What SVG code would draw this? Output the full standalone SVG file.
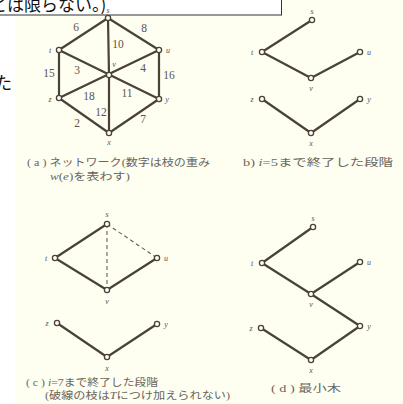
<svg xmlns="http://www.w3.org/2000/svg" width="403" height="404" viewBox="0 0 403 404">
<style>
.e{stroke:#4a4137;stroke-width:2.2;fill:none;stroke-linecap:round}
.d{stroke:#6a6157;stroke-width:1.1;fill:none;stroke-dasharray:4 3}
.n{fill:#fffff8;stroke:#4a4137;stroke-width:1.3}
.l{font-family:"Liberation Serif",serif;font-style:italic;font-size:8px;fill:#5a554d;text-anchor:middle;dominant-baseline:central}
.w{font-family:"Liberation Serif",serif;font-size:11.5px;fill:#5a554d;text-anchor:middle;dominant-baseline:central}
.c{font-family:"Liberation Serif","Noto Sans CJK JP",serif;font-size:10.5px;fill:#6a655d;dominant-baseline:central}
.t{font-family:"Noto Sans CJK JP","Noto Sans",sans-serif;font-size:17px;fill:#111}
</style>
<rect x="0" y="0" width="403" height="404" fill="#ffffff"/>
<rect x="15" y="0" width="388" height="404" fill="#fefef1"/>
<g id="header">
<rect x="-1" y="-1" width="282.5" height="16" fill="#ffffff" stroke="#333" stroke-width="1"/>
<text class="t" x="-10" y="11">とは限らない。)</text>
<text class="t" x="-5" y="89">た</text>
</g>
<g id="connectors">
<!-- (a) -->
<line class="e" x1="108" y1="18" x2="59" y2="50"/>
<line class="e" x1="108" y1="18" x2="159" y2="50"/>
<line class="e" x1="108" y1="18" x2="109" y2="75"/>
<line class="e" x1="59" y1="50" x2="159" y2="99"/>
<line class="e" x1="59" y1="50" x2="59" y2="98"/>
<line class="e" x1="159" y1="50" x2="59" y2="98"/>
<line class="e" x1="159" y1="50" x2="159" y2="99"/>
<line class="e" x1="109" y1="75" x2="109" y2="133"/>
<line class="e" x1="59" y1="98" x2="109" y2="133"/>
<line class="e" x1="159" y1="99" x2="109" y2="133"/>
<!-- (b) -->
<line class="e" x1="312" y1="20" x2="262" y2="52"/>
<line class="e" x1="262" y1="52" x2="311" y2="78"/>
<line class="e" x1="311" y1="78" x2="360" y2="52"/>
<line class="e" x1="262" y1="99" x2="311" y2="133"/>
<line class="e" x1="311" y1="133" x2="360" y2="99"/>
<!-- (c) -->
<line class="e" x1="107" y1="224" x2="55" y2="258"/>
<line class="e" x1="55" y1="258" x2="107" y2="290"/>
<line class="e" x1="107" y1="290" x2="157" y2="258"/>
<line class="d" x1="107" y1="224" x2="107" y2="290"/>
<line class="d" x1="107" y1="224" x2="157" y2="258"/>
<line class="e" x1="57" y1="323" x2="107" y2="357"/>
<line class="e" x1="107" y1="357" x2="157" y2="324"/>
<!-- (d) -->
<line class="e" x1="313" y1="227" x2="262" y2="263"/>
<line class="e" x1="262" y1="263" x2="311" y2="294"/>
<line class="e" x1="311" y1="294" x2="360" y2="262"/>
<line class="e" x1="311" y1="294" x2="360" y2="326"/>
<line class="e" x1="261" y1="328" x2="311" y2="360"/>
<line class="e" x1="311" y1="360" x2="360" y2="326"/>
</g>
<g id="weights">
<text class="w" x="76" y="27">6</text>
<text class="w" x="144" y="28">8</text>
<text class="w" x="118" y="44">10</text>
<text class="w" x="77" y="70">3</text>
<text class="w" x="143" y="68">4</text>
<text class="w" x="49" y="73">15</text>
<text class="w" x="169" y="75">16</text>
<text class="w" x="89" y="96">18</text>
<text class="w" x="127" y="93">11</text>
<text class="w" x="101" y="112">12</text>
<text class="w" x="77" y="123">2</text>
<text class="w" x="143" y="119">7</text>
</g>
<g id="a-s"><circle class="n" cx="108" cy="18" r="2.6"/><text class="l" x="108" y="10">s</text></g>
<g id="a-t"><circle class="n" cx="59" cy="50" r="2.6"/><text class="l" x="50" y="50">t</text></g>
<g id="a-u"><circle class="n" cx="159" cy="50" r="2.6"/><text class="l" x="168" y="50">u</text></g>
<g id="a-v"><circle class="n" cx="109" cy="75" r="2.6"/><text class="l" x="114" y="64">v</text></g>
<g id="a-z"><circle class="n" cx="59" cy="98" r="2.6"/><text class="l" x="50" y="99">z</text></g>
<g id="a-y"><circle class="n" cx="159" cy="99" r="2.6"/><text class="l" x="167" y="99">y</text></g>
<g id="a-x"><circle class="n" cx="109" cy="133" r="2.6"/><text class="l" x="109" y="142">x</text></g>

<g id="b-s"><circle class="n" cx="312" cy="20" r="2.6"/><text class="l" x="312" y="11">s</text></g>
<g id="b-t"><circle class="n" cx="262" cy="52" r="2.6"/><text class="l" x="252" y="52">t</text></g>
<g id="b-u"><circle class="n" cx="360" cy="52" r="2.6"/><text class="l" x="369" y="52">u</text></g>
<g id="b-v"><circle class="n" cx="311" cy="78" r="2.6"/><text class="l" x="311" y="88">v</text></g>
<g id="b-z"><circle class="n" cx="262" cy="99" r="2.6"/><text class="l" x="252" y="99">z</text></g>
<g id="b-y"><circle class="n" cx="360" cy="99" r="2.6"/><text class="l" x="369" y="99">y</text></g>
<g id="b-x"><circle class="n" cx="311" cy="133" r="2.6"/><text class="l" x="311" y="143">x</text></g>

<g id="c-s"><circle class="n" cx="107" cy="224" r="2.6"/><text class="l" x="107" y="214">s</text></g>
<g id="c-t"><circle class="n" cx="55" cy="258" r="2.6"/><text class="l" x="46" y="258">t</text></g>
<g id="c-u"><circle class="n" cx="157" cy="258" r="2.6"/><text class="l" x="166" y="258">u</text></g>
<g id="c-v"><circle class="n" cx="107" cy="290" r="2.6"/><text class="l" x="107" y="301">v</text></g>
<g id="c-z"><circle class="n" cx="57" cy="323" r="2.6"/><text class="l" x="47" y="323">z</text></g>
<g id="c-y"><circle class="n" cx="157" cy="324" r="2.6"/><text class="l" x="166" y="324">y</text></g>
<g id="c-x"><circle class="n" cx="107" cy="357" r="2.6"/><text class="l" x="107" y="368">x</text></g>

<g id="d-s"><circle class="n" cx="313" cy="227" r="2.6"/><text class="l" x="313" y="218">s</text></g>
<g id="d-t"><circle class="n" cx="262" cy="263" r="2.6"/><text class="l" x="252" y="263">t</text></g>
<g id="d-u"><circle class="n" cx="360" cy="262" r="2.6"/><text class="l" x="369" y="262">u</text></g>
<g id="d-v"><circle class="n" cx="311" cy="294" r="2.6"/><text class="l" x="311" y="304">v</text></g>
<g id="d-z"><circle class="n" cx="261" cy="328" r="2.6"/><text class="l" x="251" y="328">z</text></g>
<g id="d-y"><circle class="n" cx="360" cy="326" r="2.6"/><text class="l" x="369" y="326">y</text></g>
<g id="d-x"><circle class="n" cx="311" cy="360" r="2.6"/><text class="l" x="311" y="370">x</text></g>

<g id="captions">
<text class="c" x="27" y="162" textLength="183" lengthAdjust="spacingAndGlyphs">( a )  ネットワーク(数字は枝の重み</text>
<text class="c" x="50" y="176" textLength="80" lengthAdjust="spacingAndGlyphs"><tspan font-style="italic">w</tspan>(<tspan font-style="italic">e</tspan>)を表わす)</text>
<text class="c" x="243" y="162" textLength="150" lengthAdjust="spacingAndGlyphs">b)   <tspan font-style="italic">i</tspan>=5まで終了した段階</text>
<text class="c" x="26" y="382" textLength="132" lengthAdjust="spacingAndGlyphs">( c )   <tspan font-style="italic">i</tspan>=7まで終了した段階</text>
<text class="c" x="45" y="395" textLength="185" lengthAdjust="spacingAndGlyphs">(破線の枝は<tspan font-style="italic">T</tspan>につけ加えられない)</text>
<text class="c" x="271" y="388" textLength="70" lengthAdjust="spacingAndGlyphs">( d )   最小木</text>
</g>
</svg>
